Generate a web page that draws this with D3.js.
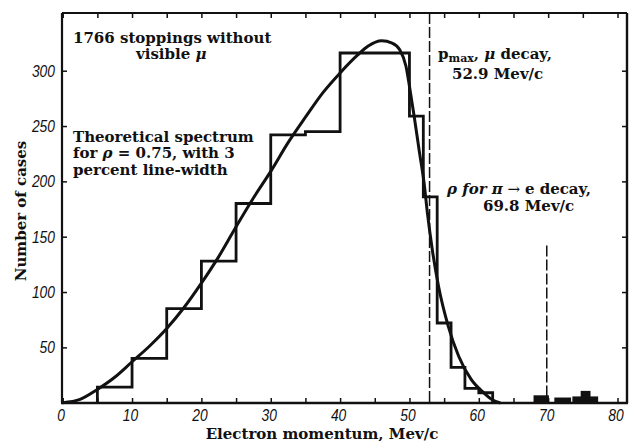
<!DOCTYPE html>
<html>
<head>
<meta charset="utf-8">
<script src="https://cdn.jsdelivr.net/npm/d3@7"></script>
<style>
  html, body { margin: 0; padding: 0; background: #fff; }
  svg { display: block; }
  .ann { font-family: "DejaVu Serif", "Liberation Serif", serif; font-weight: bold; font-size: 15px; fill: #111; }
  .ann .it { font-style: italic; }
  .tick text { font-family: "Liberation Sans", "DejaVu Sans", sans-serif; font-style: italic; font-size: 17px; fill: #111; }
  .tick line { stroke: #111; stroke-width: 1.5; }
</style>
</head>
<body>
<svg id="chart" width="636" height="441"></svg>
<script>
// Histogram bin edges (Mev/c) and the number of cases in each bin
const binEdges = [5, 10, 15, 20, 25, 30, 35, 40, 45, 50, 52, 54, 56, 58, 60, 62];
const binCounts = [14, 40, 85, 128, 180, 242, 245, 316, 316, 259, 186, 72, 32, 13, 9];

// Isolated high-momentum events: bin start, bin end, count
const highStart = [68, 71, 73.6, 74.8, 76];
const highEnd = [70, 73.2, 74.8, 76, 77.1];
const highCounts = [6, 4, 5, 10, 5];

// Theoretical spectrum for rho = 0.75 with 3 percent line-width
const curveMomentum = [0, 2.5, 5, 7.5, 10, 12.5, 15, 17.5, 20, 22.5, 25, 27.5, 30, 32.5, 35, 37.5, 40, 42.5, 44, 46, 47.5, 48.6, 49.5, 50, 50.7, 51.4, 52.1, 52.6, 53.3, 54.2, 55.6, 57.1, 58.9, 60.8, 62, 63];
const curveCases = [0, 3, 12, 23, 37, 51, 67, 86, 108, 132, 159, 185, 209, 235, 258, 280, 298, 314, 322, 327, 325, 319, 304, 286, 258, 228, 199, 171, 138, 105, 69, 42, 21, 8.5, 2.5, 0];

// Axis ticks
const xTickValues = [0, 5, 10, 15, 20, 25, 30, 35, 40, 45, 50, 55, 60, 65, 70, 75, 80];
const yTickValues = [50, 100, 150, 200, 250, 300];

// Reference momenta
const pMaxMuDecay = 52.9;
const pPiEDecay = 69.8;
const piEMarkerTop = 142;

const svg = d3.select("#chart");
const frame = { left: 62, right: 627, top: 13, bottom: 403 };
const digitWidth = 7.7; // narrow italic figures
const lineStep = 16.5;  // leading of the annotation blocks

const x = d3.scaleLinear().domain([0, 80]).range([62.7, 617.5]);
const y = d3.scaleLinear().domain([0, 300]).range([402.7, 70.7]);

// ---- axes (ticks point inward on all four sides) ----
function styleAxis(g) {
  g.attr("font-family", null).attr("font-size", null);
  g.select(".domain").remove();
  g.selectAll(".tick text").each(function () {
    const s = this.textContent;
    if (s.length) {
      d3.select(this)
        .attr("textLength", s.length * digitWidth)
        .attr("lengthAdjust", "spacingAndGlyphs");
    }
  });
}

svg.append("g")
  .attr("transform", `translate(0,${frame.bottom})`)
  .call(d3.axisBottom(x).tickValues(xTickValues).tickSize(-5).tickPadding(6)
    .tickFormat(d => d % 10 === 0 ? d : ""))
  .call(styleAxis)
  .selectAll("text").attr("dx", -2);

svg.append("g")
  .attr("transform", `translate(0,${frame.top})`)
  .call(d3.axisTop(x).tickValues(xTickValues).tickSize(-5).tickFormat(""))
  .call(styleAxis);

svg.append("g")
  .attr("transform", `translate(${frame.left},0)`)
  .call(d3.axisLeft(y).tickValues(yTickValues).tickSize(-5).tickPadding(7))
  .call(styleAxis);

svg.append("g")
  .attr("transform", `translate(${frame.right},0)`)
  .call(d3.axisRight(y).tickValues(yTickValues).tickSize(-5).tickFormat(""))
  .call(styleAxis);

// ---- frame ----
const fr = svg.append("g").attr("stroke", "#111").attr("fill", "none");
fr.append("line").attr("x1", frame.left).attr("x2", frame.right).attr("y1", frame.top).attr("y2", frame.top).attr("stroke-width", 2);
fr.append("line").attr("x1", frame.left - 1).attr("x2", frame.right + 1).attr("y1", frame.bottom).attr("y2", frame.bottom).attr("stroke-width", 2.6);
fr.append("line").attr("x1", frame.left).attr("x2", frame.left).attr("y1", frame.top).attr("y2", frame.bottom).attr("stroke-width", 2.2);
fr.append("line").attr("x1", frame.right).attr("x2", frame.right).attr("y1", frame.top).attr("y2", frame.bottom).attr("stroke-width", 2.4);

// ---- dashed reference lines ----
svg.append("line")
  .attr("x1", x(pMaxMuDecay)).attr("x2", x(pMaxMuDecay))
  .attr("y1", frame.top).attr("y2", frame.bottom)
  .attr("stroke", "#111").attr("stroke-width", 1.5).attr("stroke-dasharray", "11,3");
svg.append("line")
  .attr("x1", x(pPiEDecay)).attr("x2", x(pPiEDecay))
  .attr("y1", y(piEMarkerTop)).attr("y2", frame.bottom)
  .attr("stroke", "#111").attr("stroke-width", 1.5).attr("stroke-dasharray", "11,3");

// ---- histogram outline ----
const histPts = [[binEdges[0], 0]];
binCounts.forEach((c, i) => { histPts.push([binEdges[i], c], [binEdges[i + 1], c]); });
histPts.push([binEdges[binEdges.length - 1], 0]);

svg.append("path")
  .datum(histPts)
  .attr("d", d3.line().x(d => x(d[0])).y(d => y(d[1])))
  .attr("fill", "none").attr("stroke", "#111").attr("stroke-width", 2.8)
  .attr("stroke-linejoin", "miter");

// ---- isolated events beyond the spectrum ----
svg.append("g").selectAll("rect")
  .data(highCounts.map((c, i) => ({ x0: highStart[i], x1: highEnd[i], c })))
  .join("rect")
  .attr("x", d => x(d.x0)).attr("width", d => x(d.x1) - x(d.x0))
  .attr("y", d => y(d.c)).attr("height", d => y(0) - y(d.c))
  .attr("fill", "#111").attr("stroke", "#111").attr("stroke-width", 1.5);

// ---- theoretical curve ----
svg.append("path")
  .datum(curveMomentum.map((m, i) => [m, curveCases[i]]))
  .attr("d", d3.line().curve(d3.curveMonotoneX).x(d => x(d[0])).y(d => y(d[1])))
  .attr("fill", "none").attr("stroke", "#111").attr("stroke-width", 3)
  .attr("stroke-linecap", "round");

// ---- annotations ----
const ann = svg.append("g").attr("class", "ann");

// multi-line blocks are single text elements with one tspan per line
const t1 = ann.append("text").attr("y", 42.5);
t1.append("tspan").attr("x", 73).text("1766 stoppings without");
t1.append("tspan").attr("x", 136).attr("dy", lineStep).text("visible ");
t1.append("tspan").attr("class", "it").text("μ");

const t4 = ann.append("text").attr("y", 141.5);
t4.append("tspan").attr("x", 73).text("Theoretical spectrum");
t4.append("tspan").attr("x", 73).attr("dy", lineStep).text("for ");
t4.append("tspan").attr("class", "it").text("ρ");
t4.append("tspan").text(" = 0.75, with 3");
t4.append("tspan").attr("x", 73).attr("dy", lineStep).text("percent line-width");

const t6 = ann.append("text").attr("y", 58.5);
t6.append("tspan").attr("x", 438).text("p");
t6.append("tspan").attr("font-size", 11).attr("dy", 3).text("max");
t6.append("tspan").attr("dy", -3).text(", ");
t6.append("tspan").attr("class", "it").text("μ");
t6.append("tspan").text(" decay,");
t6.append("tspan").attr("x", 452).attr("dy", 20.5).text("52.9 Mev/c");

const t8 = ann.append("text").attr("y", 194);
t8.append("tspan").attr("x", 447).attr("class", "it").text("ρ for π");
t8.append("tspan").attr("font-weight", "normal").text(" → ");
t8.append("tspan").text("e decay,");
t8.append("tspan").attr("x", 483).attr("dy", lineStep + 0.5).text("69.8 Mev/c");

// axis titles
ann.append("text")
  .attr("transform", "translate(26,211) rotate(-90)")
  .attr("text-anchor", "middle")
  .text("Number of cases");
ann.append("text")
  .attr("x", 322).attr("y", 438.5)
  .attr("text-anchor", "middle")
  .text("Electron momentum, Mev/c");
</script>
</body>
</html>
